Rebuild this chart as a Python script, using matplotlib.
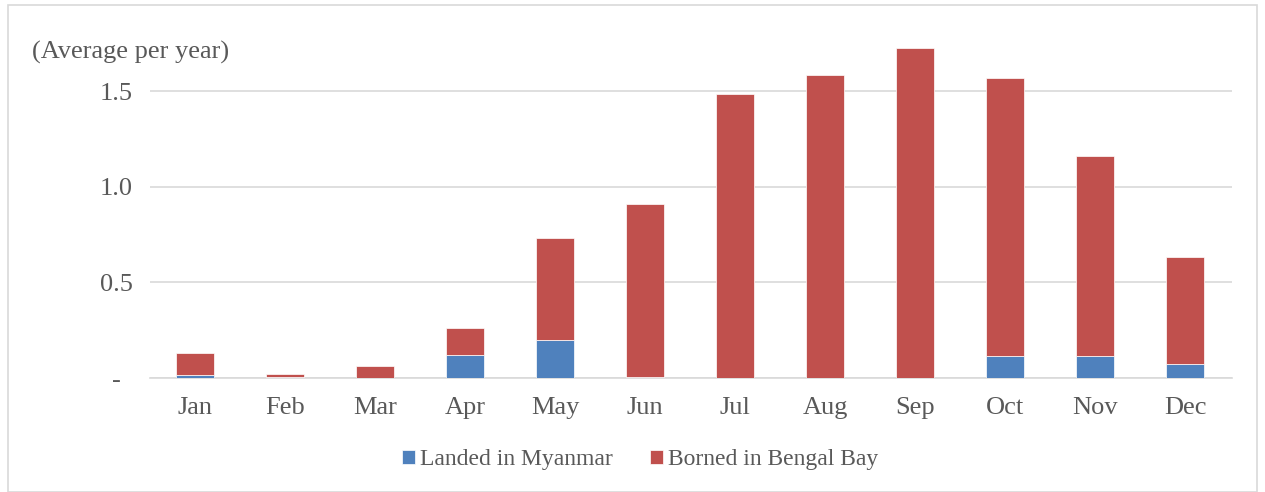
import numpy as np
import matplotlib
matplotlib.use("Agg")
import matplotlib.pyplot as plt
from matplotlib.patches import Rectangle

months = ["Jan", "Feb", "Mar", "Apr", "May", "Jun", "Jul", "Aug", "Sep", "Oct", "Nov", "Dec"]
landed = [0.017, 0.003, 0.0, 0.12, 0.20, 0.003, 0.0, 0.0, 0.0, 0.115, 0.115, 0.073]
borned = [0.113, 0.017, 0.063, 0.14, 0.53, 0.91, 1.485, 1.584, 1.725, 1.453, 1.045, 0.56]
yticks = [0, 0.5, 1.0, 1.5]
ytick_labels = ["-", "0.5", "1.0", "1.5"]

plt.rcParams['font.family'] = ['Liberation Serif', 'DejaVu Serif']
txt = '#595959'
fs = 19

fig = plt.figure(figsize=(12.65, 4.92), dpi=100)
ax = fig.add_axes([150/1265, 1-378/492, (1232-150)/1265, (378-34)/492])

x = np.arange(len(months))
ax.bar(x, landed, width=0.42, color='#4F81BD', edgecolor='white', linewidth=0.5,
       label='Landed in Myanmar', zorder=3)
ax.bar(x, borned, width=0.42, bottom=landed, color='#C0504D', edgecolor='white',
       linewidth=0.5, label='Borned in Bengal Bay', zorder=3)

ax.set_xlim(-0.5, len(months) - 0.48)
ax.set_ylim(0, 1.8)
ax.set_yticks(yticks)
ax.set_yticklabels(ytick_labels)
ax.set_xticks(x)
ax.set_xticklabels(months)
ax.tick_params(axis='both', length=0, labelsize=fs, colors=txt)
ax.tick_params(axis='y', pad=24)
ax.tick_params(axis='x', pad=14)
for lab in ax.get_yticklabels():
    lab.set_horizontalalignment('center')
ax.yaxis.grid(True, color='#D9D9D9', linewidth=1.2, zorder=0)
for s in ['top', 'right', 'left']:
    ax.spines[s].set_visible(False)
ax.spines['bottom'].set_color('#D9D9D9')
ax.spines['bottom'].set_linewidth(1.2)

fig.text(32/1265, 1-52/492, "(Average per year)", fontsize=fs, color=txt, va='center')

leg = fig.legend(loc='center', bbox_to_anchor=(640/1265, 1-460/492), ncol=2, frameon=False,
                 fontsize=17, handlelength=0.55, handleheight=0.55, handletextpad=0.2,
                 columnspacing=1.6)
for t in leg.get_texts():
    t.set_color(txt)

fig.patches.append(Rectangle((8/1265, 0), 1249/1265, 1-5/492, transform=fig.transFigure,
                             fill=False, edgecolor='#D9D9D9', linewidth=1.2))

fig.savefig("out.png", dpi=100)
